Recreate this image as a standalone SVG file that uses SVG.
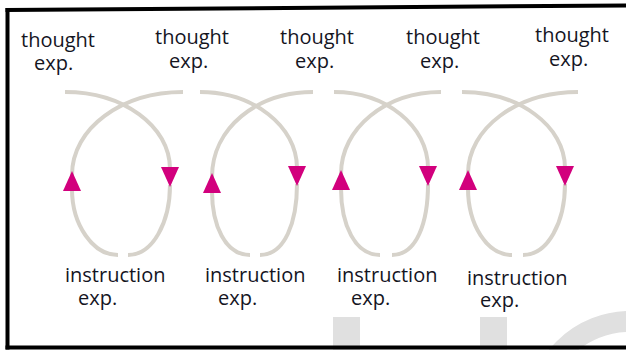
<svg xmlns="http://www.w3.org/2000/svg" width="626" height="350" viewBox="0 0 626 350">
<style>
.lbl{font-family:"Open Sans","Noto Sans","Liberation Sans",sans-serif;font-size:20px;fill:#15151f}
.arc{fill:none;stroke:#d6d2ca;stroke-width:4;stroke-linecap:butt}
.arw{fill:#d2007d}
.wm{fill:#e0e0e0}
.frame{stroke:#000;stroke-width:4;fill:none}
</style>
<rect width="626" height="350" fill="#fff"/>
<g id="watermark">
<rect class="wm" x="333" y="317" width="27" height="40"/>
<rect class="wm" x="480" y="317" width="27" height="40"/>
<circle cx="630" cy="415" r="93.5" fill="none" stroke="#e0e0e0" stroke-width="21"/>
</g>
<g id="frame">
<line class="frame" x1="7.5" y1="8" x2="7.5" y2="349.5"/>
<line class="frame" x1="5.5" y1="10" x2="626" y2="5.5"/>
<line class="frame" x1="5.5" y1="347.5" x2="626" y2="347.5"/>
</g>
<g id="connectors">
<path class="arc" d="M65,92 C123,92 170,126 170,169"/>
<path class="arc" d="M183,92 C122,92 72,128 72,175"/>
<path class="arc" d="M72,189 C72,225 93,255 118,255"/>
<path class="arc" d="M128,255 C153,255 170,222 170,185"/>
<polygon class="arw" points="72,171 63,191 81,191"/>
<polygon class="arw" points="161,167 179,167 170,187"/>

<path class="arc" d="M200,92 C253,92 297,126 297,168"/>
<path class="arc" d="M313,92 C257,92 212,128 212,177"/>
<path class="arc" d="M212,191 C212,225 225,255 250,255"/>
<path class="arc" d="M260,255 C285,255 297,222 297,184"/>
<polygon class="arw" points="212,173 203,193 221,193"/>
<polygon class="arw" points="288,166 306,166 297,186"/>

<path class="arc" d="M334,92 C386,92 428,126 428,168"/>
<path class="arc" d="M441,92 C386,92 341,128 341,174"/>
<path class="arc" d="M341,188 C341,225 355,255 380,255"/>
<path class="arc" d="M392,255 C417,255 428,222 428,184"/>
<polygon class="arw" points="341,170 332,190 350,190"/>
<polygon class="arw" points="419,166 437,166 428,186"/>

<path class="arc" d="M462,92 C519,92 565,126 565,168"/>
<path class="arc" d="M578,92 C517,92 468,128 468,174"/>
<path class="arc" d="M468,188 C468,225 487,255 512,255"/>
<path class="arc" d="M523,255 C548,255 565,222 565,184"/>
<polygon class="arw" points="468,170 459,190 477,190"/>
<polygon class="arw" points="556,166 574,166 565,186"/>
</g>
<g id="thought1"><text class="lbl"><tspan x="21" y="47">thought</tspan><tspan x="34" y="70">exp.</tspan></text></g>
<g id="thought2"><text class="lbl"><tspan x="155" y="44">thought</tspan><tspan x="169" y="68">exp.</tspan></text></g>
<g id="thought3"><text class="lbl"><tspan x="280" y="44">thought</tspan><tspan x="295" y="68">exp.</tspan></text></g>
<g id="thought4"><text class="lbl"><tspan x="406" y="44">thought</tspan><tspan x="420" y="68">exp.</tspan></text></g>
<g id="thought5"><text class="lbl"><tspan x="535" y="42">thought</tspan><tspan x="549" y="66">exp.</tspan></text></g>
<g id="instruction1"><text class="lbl"><tspan x="65" y="282">instruction</tspan><tspan x="78" y="305">exp.</tspan></text></g>
<g id="instruction2"><text class="lbl"><tspan x="205" y="282">instruction</tspan><tspan x="218" y="305">exp.</tspan></text></g>
<g id="instruction3"><text class="lbl"><tspan x="337" y="282">instruction</tspan><tspan x="351" y="305">exp.</tspan></text></g>
<g id="instruction4"><text class="lbl"><tspan x="467" y="285">instruction</tspan><tspan x="480" y="307">exp.</tspan></text></g>
</svg>
